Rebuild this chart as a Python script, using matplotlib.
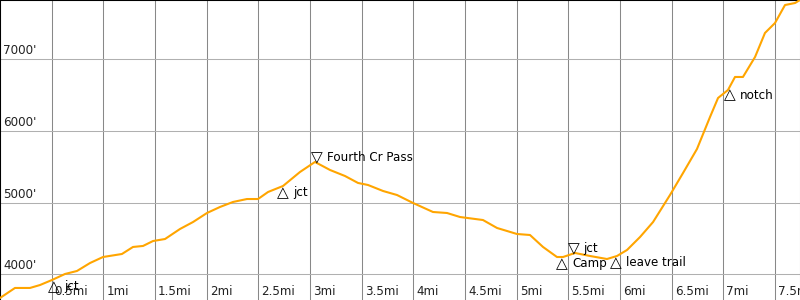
import numpy as np
import matplotlib.pyplot as plt

# track profile (miles, feet)
track_mi = [0.00, 0.145, 0.29, 0.387, 0.503, 0.629, 0.745, 0.871, 0.997, 1.18,
            1.287, 1.384, 1.481, 1.597, 1.742, 1.868, 2.003, 2.129, 2.255, 2.39,
            2.497, 2.594, 2.739, 2.903, 3.048, 3.194, 3.339, 3.465, 3.561, 3.707,
            3.842, 3.997, 4.19, 4.326, 4.452, 4.674, 4.81, 5.003, 5.129, 5.255,
            5.39, 5.449, 5.565, 5.71, 5.874, 5.971, 6.068, 6.194, 6.32, 6.484,
            6.61, 6.745, 6.871, 6.949, 7.045, 7.113, 7.19, 7.307, 7.403, 7.5,
            7.597, 7.694, 7.742]
track_ft = [3669, 3809, 3809, 3850, 3920, 4004, 4046, 4157, 4241, 4283,
            4381, 4395, 4464, 4492, 4632, 4729, 4855, 4939, 5009, 5050,
            5050, 5148, 5232, 5427, 5567, 5455, 5371, 5274, 5246, 5162,
            5106, 4995, 4869, 4855, 4799, 4757, 4646, 4562, 4548, 4381,
            4241, 4241, 4297, 4255, 4213, 4255, 4339, 4520, 4729, 5106,
            5413, 5748, 6194, 6460, 6571, 6753, 6753, 7032, 7367, 7506,
            7757, 7785, 7827]

# waypoints
wp_names = ["jct", "jct", "Fourth Cr Pass", "Camp", "jct", "leave trail", "notch"]
wp_mi = [0.52, 2.74, 3.07, 5.44, 5.55, 5.96, 7.06]
wp_ft = [3920, 5232, 5567, 4241, 4297, 4255, 6590]
wp_up = [True, True, False, True, False, True, True]

x_ticks = [0.5, 1, 1.5, 2, 2.5, 3, 3.5, 4, 4.5, 5, 5.5, 6, 6.5, 7, 7.5]
x_labels = ["0.5mi", "1mi", "1.5mi", "2mi", "2.5mi", "3mi", "3.5mi", "4mi",
            "4.5mi", "5mi", "5.5mi", "6mi", "6.5mi", "7mi", "7.5mi"]
y_ticks = [4000, 5000, 6000, 7000]
y_labels = ["4000'", "5000'", "6000'", "7000'"]

fig = plt.figure(figsize=(8, 3), dpi=100)
ax = fig.add_axes([0, 0, 1, 1])
ax.set_xlim(0, 7.742)
ax.set_ylim(3641, 7827)
ax.set_xticks([])
ax.set_yticks([])

for xv in x_ticks:
    ax.axvline(xv, color="#888888", lw=0.75, zorder=1)
for yv in y_ticks:
    ax.axhline(yv, color="#b0b0b0", lw=0.75, zorder=1)

ax.plot(track_mi, track_ft, color="#ffa500", lw=1.5, zorder=3)

for xv, lab in zip(x_ticks, x_labels):
    ax.annotate(lab, xy=(xv, 0), xycoords=("data", "axes fraction"),
                xytext=(3, 5), textcoords="offset pixels",
                fontsize=8.6, va="baseline", ha="left", color="#222222")
for yv, lab in zip(y_ticks, y_labels):
    ax.annotate(lab, xy=(0, yv), xycoords="data",
                xytext=(3, 5), textcoords="offset pixels",
                fontsize=8.6, va="baseline", ha="left", color="#222222")

for name, xm, ft, up in zip(wp_names, wp_mi, wp_ft, wp_up):
    if up:
        sym, dy = "\u25b3", -11
    else:
        sym, dy = "\u25bd", 0
    ax.annotate(sym, xy=(xm, ft), xytext=(0, dy), textcoords="offset pixels",
                fontsize=11, va="baseline", ha="center", zorder=4)
    ax.annotate(name, xy=(xm, ft), xytext=(10, dy + 1), textcoords="offset pixels",
                fontsize=8.6, va="baseline", ha="left", zorder=4)

for side in ["left", "top"]:
    ax.spines[side].set_color("black")
    ax.spines[side].set_linewidth(1.5)
ax.spines["bottom"].set_visible(False)
ax.spines["right"].set_color("#888888")
ax.spines["right"].set_linewidth(0.75)

fig.savefig("out.png", dpi=100)
